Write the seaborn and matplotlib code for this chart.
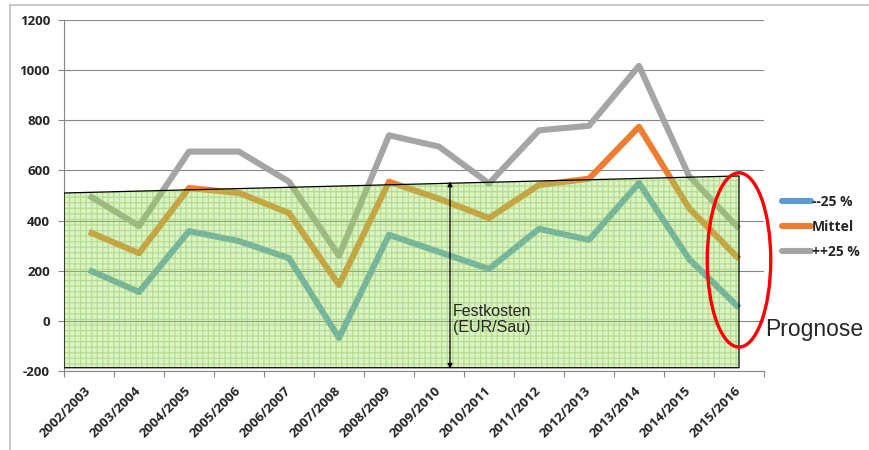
import numpy as np
import pandas as pd
import matplotlib
matplotlib.use("Agg")
import matplotlib.pyplot as plt
import seaborn as sns
from matplotlib.patches import Ellipse, Polygon
from matplotlib.lines import Line2D

# ---- data ----
seasons = ["2002/2003", "2003/2004", "2004/2005", "2005/2006", "2006/2007",
           "2007/2008", "2008/2009", "2009/2010", "2010/2011", "2011/2012",
           "2012/2013", "2013/2014", "2014/2015", "2015/2016"]
low = [203, 115, 358, 318, 250, -68, 343, 275, 207, 367, 323, 550, 247, 52]
mid = [355, 270, 530, 510, 430, 143, 555, 487, 410, 542, 567, 774, 450, 247]
high = [500, 378, 675, 675, 555, 260, 740, 695, 548, 760, 778, 1017, 578, 368]
series_names = ["--25 %", "Mittel", "++25 %"]
series_colors = ["#5B9BD5", "#ED7D31", "#A5A5A5"]
festkosten_top = [510, 578]      # fixed-cost band, left and right edge
festkosten_bottom = -187
y_ticks = [-200, 0, 200, 400, 600, 800, 1000, 1200]

sns.set_theme(style="white")
plt.rcParams["font.family"] = ["Open Sans", "DejaVu Sans"]
plt.rcParams["hatch.linewidth"] = 0.9

W, H = 869, 450
fig = plt.figure(figsize=(W / 100, H / 100), dpi=100)
ax = fig.add_axes([64 / W, 79 / H, 700 / W, 351 / H])

idx = list(range(len(seasons)))
df = pd.concat([
    pd.DataFrame({"x": idx, "value": vals, "series": name})
    for name, vals in zip(series_names, [low, mid, high])
])
sns.lineplot(data=df, x="x", y="value", hue="series", hue_order=series_names,
             palette=series_colors, linewidth=4.4, sort=False, legend=False,
             ax=ax, zorder=2)
for ln in ax.get_lines():
    ln.set_solid_joinstyle("round")
    ln.set_solid_capstyle("butt")

# fixed-cost band (semi transparent overlay with grid pattern)
band_x = [-0.5, idx[-1], idx[-1], -0.5]
band_y = [festkosten_top[0], festkosten_top[1], festkosten_bottom, festkosten_bottom]
ax.add_patch(Polygon(list(zip(band_x, band_y)), closed=True,
                     facecolor=(0.62, 0.85, 0.38, 0.34),
                     edgecolor=(0.55, 0.80, 0.30, 0.5), hatch="+++",
                     linewidth=0, zorder=3))
ax.add_patch(Polygon(list(zip(band_x, band_y)), closed=True, fill=False,
                     edgecolor="black", linewidth=0.9, zorder=4))

# arrow + label
ax.annotate("", xy=(7.22, -191), xytext=(7.22, 556),
            arrowprops=dict(arrowstyle="<|-|>", color="black", lw=0.9,
                            mutation_scale=7, shrinkA=0, shrinkB=0), zorder=5)
ax.text(7.27, 5, "Festkosten\n(EUR/Sau)", fontsize=11.5, family="Liberation Sans",
        va="center", ha="left", linespacing=1.1, zorder=6)

# red ellipse
ax.add_patch(Ellipse((13.0, 243), width=1.27, height=695, fill=False,
                     edgecolor="#FF0000", linewidth=2.4, clip_on=False, zorder=7))

# axes styling
ax.set_xlim(-0.5, len(seasons) - 0.5)
ax.set_ylim(-200, 1200)
ax.set_yticks(y_ticks)
ax.set_yticklabels([str(v) for v in y_ticks], fontsize=9.6, fontweight="bold")
ax.set_xticks(idx)
ax.set_xticklabels(seasons, rotation=45, ha="right", va="center",
                   rotation_mode="anchor", fontsize=9.5, fontweight="bold")
ax.set_xticks(np.arange(-0.5, len(seasons), 1.0), minor=True)
ax.tick_params(axis="x", which="major", length=0, pad=13)
ax.tick_params(axis="x", which="minor", length=4, width=0.8, color="#868686",
               direction="out", bottom=True)
ax.tick_params(axis="y", length=4, width=0.8, color="#868686", direction="out",
               left=True, pad=6)
ax.set_xlabel("")
ax.set_ylabel("")
ax.yaxis.grid(True, color="#868686", linewidth=0.8)
ax.xaxis.grid(False)
ax.set_axisbelow(True)
for s in ["top", "right"]:
    ax.spines[s].set_visible(False)
for s in ["left", "bottom"]:
    ax.spines[s].set_color("#868686")
    ax.spines[s].set_linewidth(0.8)

# legend
handles = [Line2D([], [], color=c, linewidth=4.4, solid_capstyle="round")
           for c in series_colors]
fig.legend(handles, series_names, loc="upper left",
           bbox_to_anchor=(776 / W, 1 - 189 / H), frameon=False,
           prop={"weight": "bold", "size": 10}, handlelength=2.1,
           handletextpad=0.1, labelspacing=0.8, borderaxespad=0)

fig.text(765 / W, 1 - 336 / H, "Prognose", fontsize=16.5, family="Liberation Sans",
         va="baseline", ha="left")

# chart border
fig.add_artist(Line2D([10 / W, 10 / W], [0, 1 - 5 / H], color="#BFBFBF", lw=1.2))
fig.add_artist(Line2D([10 / W, 1], [1 - 5 / H, 1 - 5 / H], color="#BFBFBF", lw=1.2))

fig.savefig("out.png", dpi=100)
